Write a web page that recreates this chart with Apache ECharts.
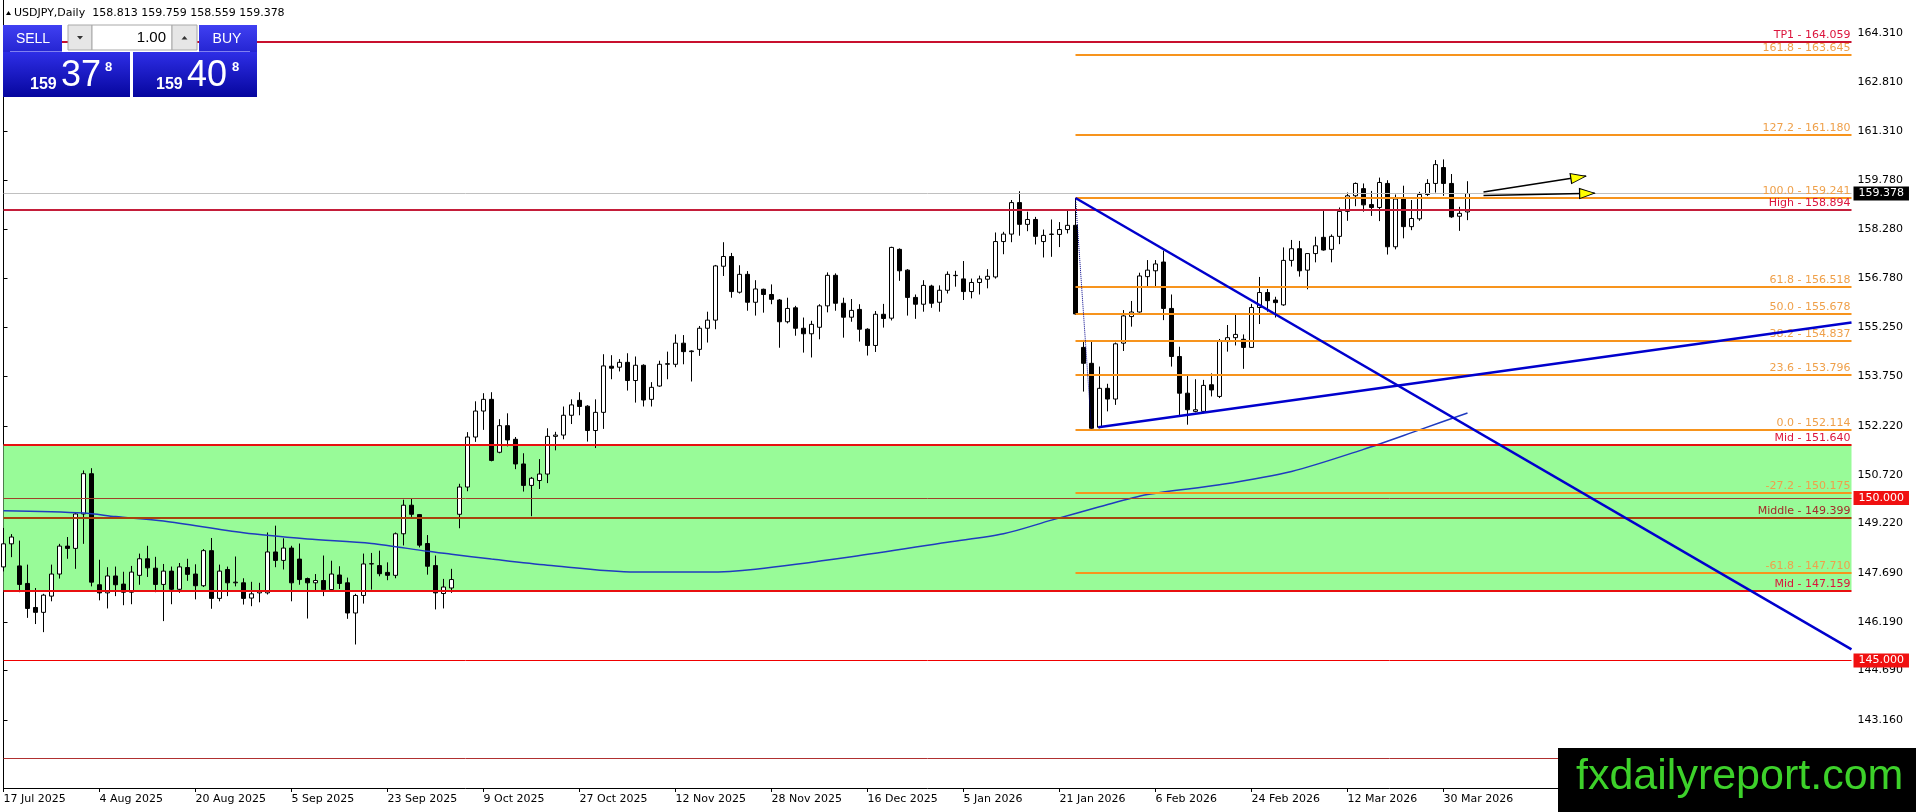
<!DOCTYPE html>
<html>
<head>
<meta charset="utf-8">
<title>USDJPY Daily</title>
<script src="https://cdn.jsdelivr.net/npm/echarts@6/dist/echarts.min.js"></script>
<style>
html, body { margin: 0; padding: 0; background: #fff; }
#chart { width: 1916px; height: 812px; }
</style>
</head>
<body>
<div id="chart"></div>
<script>
// daily bars, 17 Jul 2025 .. 2 Apr 2026 (bar index 0..183)
var opens = [
  147.88,148.59,147.91,147.37,146.63,146.48,146.98,147.66,148.52,148.45,
  149.51,150.75,147.33,147.08,147.60,147.35,147.10,147.62,148.13,147.84,
  147.34,147.75,147.19,147.86,147.66,147.30,148.38,146.91,147.80,147.39,
  147.39,146.92,147.08,147.08,148.34,148.08,148.46,148.12,147.52,147.39,
  147.46,147.18,147.63,147.39,146.46,147.00,147.97,147.92,147.71,147.62,
  148.90,149.78,149.49,148.60,147.92,147.06,147.23,149.50,150.34,151.88,
  152.68,153.04,151.41,152.23,151.81,151.05,150.39,150.54,150.74,151.90,
  151.94,152.55,153.01,152.83,152.08,152.64,154.06,154.03,154.18,153.62,
  154.09,153.04,153.45,154.12,154.12,154.77,154.51,154.58,155.23,155.48,
  157.14,157.44,156.34,156.89,156.03,156.43,156.27,156.10,155.43,155.86,
  155.23,155.06,155.26,155.92,156.86,156.00,155.57,155.81,155.20,154.70,
  155.66,155.54,157.66,157.02,156.18,155.97,156.53,156.03,156.40,156.85,
  156.75,156.36,156.64,156.74,156.81,157.90,158.13,159.10,158.43,158.58,
  157.90,158.12,158.12,158.27,158.40,154.64,154.15,152.18,153.38,153.05,
  154.77,155.59,155.73,156.82,157.00,157.27,155.84,154.36,153.23,152.67,
  152.67,153.49,153.13,154.82,154.94,154.89,154.64,155.87,156.33,156.10,
  155.95,157.32,157.68,157.02,157.53,158.03,157.66,158.06,158.83,159.31,
  159.53,159.04,158.95,159.69,157.74,159.23,158.36,158.60,159.35,159.69,
  160.18,159.69,158.68,158.813
];
var highs = [
  149.08,148.89,148.69,147.95,147.23,147.05,147.95,148.59,148.80,149.55,
  150.85,150.92,148.10,147.87,147.89,147.73,147.91,148.29,148.53,148.19,
  147.97,147.89,148.00,148.13,147.96,148.43,148.77,147.95,147.89,148.20,
  147.53,147.42,147.39,148.94,149.15,148.76,148.53,148.60,147.55,147.66,
  148.23,148.07,147.90,147.55,147.05,148.29,148.31,148.38,148.02,148.94,
  149.95,149.99,149.51,148.86,148.23,147.51,147.82,150.44,152.03,152.98,
  153.23,153.26,152.43,152.61,151.88,151.38,150.65,151.20,152.15,152.04,
  152.82,153.04,153.26,152.86,153.04,154.43,154.40,154.28,154.46,154.36,
  154.12,153.57,154.23,154.51,155.04,155.02,154.55,155.30,155.74,157.18,
  157.88,157.55,157.17,156.99,156.71,156.45,156.58,156.13,156.17,155.92,
  155.56,155.46,155.97,156.95,156.92,156.17,156.13,155.97,155.23,155.76,
  155.98,157.74,157.69,157.05,156.27,156.71,156.57,156.55,156.98,157.00,
  157.30,156.76,156.85,157.05,158.18,158.20,159.18,159.45,158.82,158.66,
  158.27,158.58,158.50,158.86,159.24,154.87,154.85,154.05,153.52,154.79,
  155.79,156.07,156.94,157.33,157.33,157.62,156.27,154.66,153.76,153.66,
  153.64,153.84,154.90,155.33,155.64,155.04,155.98,156.81,156.44,156.20,
  157.72,157.95,157.92,157.54,158.05,158.85,158.12,158.95,159.41,159.72,
  159.69,159.46,159.87,159.79,159.35,159.62,159.18,159.43,159.82,160.41,
  160.43,159.98,158.97,159.759
];
var lows = [
  147.74,148.18,147.10,146.31,146.12,145.87,146.82,147.52,148.13,147.82,
  148.59,147.28,146.85,146.60,146.98,146.70,146.73,147.33,147.57,147.10,
  146.21,146.73,147.08,147.45,146.88,147.26,146.59,146.82,146.98,147.28,
  146.72,146.67,146.79,147.03,147.87,147.80,146.82,147.33,146.29,147.11,
  146.98,147.15,147.20,146.28,145.49,146.75,147.18,147.59,147.47,147.53,
  148.54,149.42,148.48,147.64,146.57,146.60,147.08,149.07,150.21,151.73,
  152.10,151.13,151.38,151.59,150.89,150.20,149.44,150.28,150.46,151.47,
  151.81,152.28,152.55,151.74,151.54,152.13,153.66,153.90,153.31,152.94,
  152.82,152.82,153.43,153.66,154.03,154.12,153.59,154.38,154.79,155.20,
  156.84,156.17,156.30,155.77,155.62,155.71,155.97,154.63,155.38,155.00,
  154.48,154.33,154.89,155.72,155.77,154.94,155.43,154.82,154.39,154.50,
  155.25,155.47,156.69,155.62,155.52,155.74,155.86,155.74,156.30,156.51,
  156.10,156.15,156.27,156.46,156.76,157.51,157.88,158.08,158.22,157.81,
  157.41,157.43,157.73,158.15,155.64,153.28,152.11,152.15,152.67,152.87,
  154.53,155.28,155.71,156.53,156.53,155.48,154.05,152.56,152.26,152.64,
  152.61,153.13,153.08,154.51,154.70,153.98,154.63,155.36,155.74,155.56,
  155.92,157.13,156.82,156.43,157.26,157.62,157.26,157.82,158.54,158.99,
  158.82,158.69,158.53,157.50,157.66,158.00,158.25,158.54,159.30,159.41,
  159.31,158.63,158.23,158.559
];
var closes = [
  148.59,148.80,147.34,146.60,146.48,147.01,147.66,148.52,148.45,149.51,
  150.75,147.41,147.08,147.60,147.33,147.10,147.72,148.13,147.85,147.34,
  147.75,147.19,147.88,147.65,147.30,148.38,146.91,147.75,147.39,147.41,
  146.91,147.05,147.15,148.34,148.08,148.46,147.39,147.49,147.39,147.46,
  147.18,147.66,147.37,146.46,147.00,147.97,147.98,147.67,147.62,148.90,
  149.78,149.50,148.55,147.90,147.08,147.26,147.49,150.34,151.88,152.68,
  153.04,151.16,152.23,151.79,151.05,150.39,150.61,150.74,151.90,151.94,
  152.55,152.87,152.82,152.08,152.64,154.07,154.00,154.18,153.62,154.09,
  153.02,153.41,154.12,154.14,154.77,154.51,154.53,155.23,155.48,157.15,
  157.44,156.36,156.89,156.03,156.44,156.27,156.12,155.43,155.84,155.23,
  155.06,155.35,155.92,156.86,156.00,155.57,155.78,155.20,154.70,155.66,
  155.53,157.72,157.00,156.18,155.97,156.55,156.00,156.40,156.89,156.86,
  156.36,156.64,156.75,156.83,157.90,158.13,159.10,158.43,158.58,158.06,
  158.09,158.13,158.27,158.40,155.67,154.15,152.15,153.38,153.05,154.75,
  155.61,155.73,156.84,157.02,157.21,155.84,154.36,153.23,152.72,152.72,
  153.47,153.33,154.85,154.94,155.04,154.64,155.87,156.33,156.08,156.02,
  157.32,157.68,157.00,157.53,157.77,157.64,158.06,158.83,159.31,159.69,
  159.03,158.95,159.72,157.74,159.21,158.36,158.61,159.35,159.69,160.27,
  159.69,158.66,158.77,159.378
];

// x labels, one every 12 bars starting at bar 0
var dateLabels = ['17 Jul 2025','4 Aug 2025','20 Aug 2025','5 Sep 2025','23 Sep 2025','9 Oct 2025',
  '27 Oct 2025','12 Nov 2025','28 Nov 2025','16 Dec 2025','5 Jan 2026','21 Jan 2026',
  '6 Feb 2026','24 Feb 2026','12 Mar 2026','30 Mar 2026'];
var priceTicks = [164.310,162.810,161.310,159.780,158.280,156.780,155.250,153.750,
  152.220,150.720,149.220,147.690,146.190,144.690,143.160];

// moving average, read at a few bars
var maBars   = [0,10,14,20,30,38,46,53,56,61,68,79,88,94,106,118,125,131,137,143,152,161,170,177,183];
var maValues = [149.61,149.54,149.43,149.29,148.93,148.74,148.60,148.36,148.27,148.12,147.93,147.72,147.72,
  147.81,148.19,148.64,148.90,149.32,149.73,150.11,150.41,150.82,151.50,152.10,152.62];

// fibonacci from the 23 Jan high (bar 134)
var fibAnchorBar = 134;
var fibNames  = ['161.8','127.2','100.0','61.8','50.0','38.2','23.6','0.0','-27.2','-61.8'];
var fibLevels = [163.645,161.180,159.241,156.518,155.678,154.837,153.796,152.114,150.175,147.710];

var levelNames  = ['TP1','High','Mid','Middle','Mid'];
var levelPrices = [164.059,158.894,151.640,149.399,147.159];
var roundLevels = [150.000,145.000];
var plainLevel  = 142.000;
var bidPrice    = 159.378;

var zoneTop = 151.640, zoneBottom = 147.159;

var trendDown  = [[134,159.241],[231,145.34]];
var trendUp    = [[136.85,152.18],[231,155.41]];
var fibDiag    = [[134,159.241],[136,152.114]];
var arrow1     = [[185.0,159.43],[197.8,159.92]];
var arrow2     = [[185.0,159.315],[198.9,159.39]];
var arrowHeads = [[196.85,159.875],[197.95,159.385]];

var N = 232;
var cats = [];
for (var i = 0; i < N; i++) cats.push(String(i));
var lastX = N - 1;

var candleData = opens.map(function (o, i) { return [o, closes[i], lows[i], highs[i]]; });
var maData = maBars.map(function (b, i) { return [b, maValues[i]]; });

var FONT = 'DejaVu Sans';

function hLine(x0, v, color, width, label) {
  var a = { coord: [x0, v], lineStyle: { color: color, width: width, type: 'solid' } };
  a.label = label || { show: false };
  return [a, { coord: [lastX, v] }];
}
function topLabel(text, color) {
  return { show: true, position: 'insideEndTop', distance: 1, formatter: text,
           color: color, fontFamily: FONT, fontSize: 11 };
}
function boxLabel(text, bg) {
  return { show: true, position: 'end', distance: 2, formatter: text, color: '#fff',
           backgroundColor: bg, padding: [2, 5, 1, 5], fontFamily: FONT, fontSize: 11 };
}

var lineItems = [];
var levelColors = ['#C8102E', '#C41E3A', '#E81010', '#A8420C', '#E81010'];
var levelText   = ['#DC143C', '#DC143C', '#DC143C', '#A52A2A', '#DC143C'];
levelPrices.forEach(function (v, i) {
  lineItems.push(hLine(0, v, levelColors[i], 2,
    topLabel(levelNames[i] + ' - ' + v.toFixed(3), levelText[i])));
});
fibLevels.forEach(function (v, i) {
  lineItems.push(hLine(fibAnchorBar, v, '#F7941D', 2,
    topLabel(fibNames[i] + ' - ' + v.toFixed(3), '#EFA04A')));
});
lineItems.push(hLine(0, roundLevels[0], '#A0402A', 1, boxLabel(roundLevels[0].toFixed(3), '#F01010')));
lineItems.push(hLine(0, roundLevels[1], '#F00000', 1, boxLabel(roundLevels[1].toFixed(3), '#F01010')));
lineItems.push(hLine(0, plainLevel, '#B03030', 1));
lineItems.push(hLine(0, bidPrice, '#C0C0C0', 1, boxLabel(bidPrice.toFixed(3), '#000')));

function seg(data, color, width, type, z) {
  return { type: 'line', xAxisIndex: 1, yAxisIndex: 0, data: data, showSymbol: false,
           symbol: 'none', clip: false, silent: true, z: z,
           lineStyle: { color: color, width: width, type: type } };
}

var blueGrad = function (a, b) {
  return new echarts.graphic.LinearGradient(0, 0, 0, 1, [{ offset: 0, color: a }, { offset: 1, color: b }]);
};

var chart = echarts.init(document.getElementById('chart'));
chart.setOption({
  animation: false,
  backgroundColor: '#fff',
  grid: { left: 3.5, right: 64.5, top: 0, bottom: 24, containLabel: false },
  xAxis: [{
    type: 'category', data: cats, boundaryGap: false,
    axisLine: { show: true, lineStyle: { color: '#000', width: 1 } },
    axisTick: { show: true, length: 4, lineStyle: { color: '#000' },
      interval: function (idx) { return idx % 12 === 0 && idx / 12 < dateLabels.length; } },
    axisLabel: { show: true, align: 'left', margin: 6, color: '#000', fontFamily: FONT, fontSize: 11,
      interval: function (idx) { return idx % 12 === 0 && idx / 12 < dateLabels.length; },
      formatter: function (v) { return dateLabels[Number(v) / 12] || ''; } },
    splitLine: { show: false }
  }, {
    type: 'value', min: 0, max: lastX, show: false
  }],
  yAxis: [{
    type: 'value', position: 'right', min: 141.07, max: 165.34, scale: true,
    axisLine: { show: true, lineStyle: { color: '#000', width: 1 } },
    axisTick: { show: true, length: 4, lineStyle: { color: '#000' }, customValues: priceTicks },
    axisLabel: { show: true, margin: 6, color: '#000', fontFamily: FONT, fontSize: 11,
      customValues: priceTicks, formatter: function (v) { return Number(v).toFixed(3); } },
    splitLine: { show: false }
  }, {
    type: 'value', position: 'left', min: 141.07, max: 165.34,
    axisLine: { show: true, lineStyle: { color: '#000', width: 1 } },
    axisTick: { show: false }, axisLabel: { show: false }, splitLine: { show: false }
  }],
  series: [
    { // green zone
      type: 'line', xAxisIndex: 1, yAxisIndex: 0, data: [], z: 1, silent: true,
      markArea: { silent: true, itemStyle: { color: '#98FB98' },
        data: [[{ coord: [0, zoneTop] }, { coord: [lastX, zoneBottom] }]] }
    },
    {
      type: 'candlestick', xAxisIndex: 0, yAxisIndex: 0, data: candleData, z: 3,
      barWidth: 5, clip: false, silent: true,
      itemStyle: { color: '#FFFFFF', color0: '#000000', borderColor: '#000000',
                   borderColor0: '#000000', borderWidth: 1 }
    },
    {
      type: 'line', xAxisIndex: 1, yAxisIndex: 0, data: maData, smooth: 0.3, z: 4,
      showSymbol: false, symbol: 'none', silent: true,
      lineStyle: { color: '#1F3BBF', width: 1.5 }
    },
    {
      type: 'line', xAxisIndex: 1, yAxisIndex: 0, data: [], z: 5, clip: false, silent: true,
      markLine: { silent: true, symbol: ['none', 'none'], animation: false,
        label: { show: false }, data: lineItems }
    },
    seg(trendDown, '#0000CD', 2.5, 'solid', 6),
    seg(trendUp, '#0000CD', 2.5, 'solid', 6),
    seg(fibDiag, '#00008B', 1, 'dotted', 6),
    seg(arrow1, '#000', 1.5, 'solid', 7),
    seg(arrow2, '#000', 1.5, 'solid', 7),
    {
      type: 'scatter', xAxisIndex: 1, yAxisIndex: 0, z: 8, silent: true,
      data: [
        { value: arrowHeads[0], symbolRotate: -81.2 },
        { value: arrowHeads[1], symbolRotate: -88.8 }
      ],
      symbol: 'triangle', symbolSize: [10, 15],
      itemStyle: { color: '#FFFF00', borderColor: '#000', borderWidth: 1, opacity: 1 }
    }
  ],
  graphic: [
    { type: 'polygon', shape: { points: [[6, 15], [8.5, 11], [11, 15]] }, style: { fill: '#000' }, z: 100 },
    { type: 'text', x: 14, y: 13, z: 100,
      style: { text: 'USDJPY,Daily  158.813 159.759 158.559 159.378', fill: '#000',
               font: '11px "DejaVu Sans"', verticalAlign: 'middle' } },
    // trade panel
    { type: 'rect', shape: { x: 3, y: 25, width: 59, height: 27 }, style: { fill: blueGrad('#4040F2', '#2525D2') }, z: 100 },
    { type: 'rect', shape: { x: 199, y: 25, width: 58, height: 27 }, style: { fill: blueGrad('#4040F2', '#2525D2') }, z: 100 },
    { type: 'line', shape: { x1: 10, y1: 51.5, x2: 62, y2: 51.5 }, style: { stroke: '#8080F0', lineWidth: 1 }, z: 101 },
    { type: 'line', shape: { x1: 199, y1: 51.5, x2: 250, y2: 51.5 }, style: { stroke: '#8080F0', lineWidth: 1 }, z: 101 },
    { type: 'rect', shape: { x: 68, y: 25, width: 24, height: 25 }, style: { fill: '#E6E6E6', stroke: '#A8A8A8' }, z: 100 },
    { type: 'rect', shape: { x: 92, y: 25, width: 80, height: 25 }, style: { fill: '#FFFFFF', stroke: '#A8A8A8' }, z: 100 },
    { type: 'rect', shape: { x: 172, y: 25, width: 25, height: 25 }, style: { fill: '#E6E6E6', stroke: '#A8A8A8' }, z: 100 },
    { type: 'polygon', shape: { points: [[77, 36], [83, 36], [80, 39.5]] }, style: { fill: '#333' }, z: 101 },
    { type: 'polygon', shape: { points: [[181.5, 39.5], [187.5, 39.5], [184.5, 36]] }, style: { fill: '#333' }, z: 101 },
    { type: 'text', x: 33, y: 39, z: 101, style: { text: 'SELL', fill: '#fff', font: '14px "Liberation Sans"', align: 'center', verticalAlign: 'middle' } },
    { type: 'text', x: 227, y: 39, z: 101, style: { text: 'BUY', fill: '#fff', font: '14px "Liberation Sans"', align: 'center', verticalAlign: 'middle' } },
    { type: 'text', x: 166, y: 38, z: 101, style: { text: '1.00', fill: '#000', font: '15px "Liberation Sans"', align: 'right', verticalAlign: 'middle' } },
    { type: 'rect', shape: { x: 3, y: 52, width: 127, height: 45 }, style: { fill: blueGrad('#2E2EE6', '#06069E') }, z: 100 },
    { type: 'rect', shape: { x: 133, y: 52, width: 124, height: 45 }, style: { fill: blueGrad('#2E2EE6', '#06069E') }, z: 100 },
    { type: 'text', x: 30, y: 85, z: 101, style: { text: '159', fill: '#fff', font: 'bold 16px "Liberation Sans"', verticalAlign: 'middle' } },
    { type: 'text', x: 61, y: 76, z: 101, style: { text: '37', fill: '#fff', font: '36px "Liberation Sans"', verticalAlign: 'middle' } },
    { type: 'text', x: 105, y: 67, z: 101, style: { text: '8', fill: '#fff', font: 'bold 13px "Liberation Sans"', verticalAlign: 'middle' } },
    { type: 'text', x: 156, y: 85, z: 101, style: { text: '159', fill: '#fff', font: 'bold 16px "Liberation Sans"', verticalAlign: 'middle' } },
    { type: 'text', x: 187, y: 76, z: 101, style: { text: '40', fill: '#fff', font: '36px "Liberation Sans"', verticalAlign: 'middle' } },
    { type: 'text', x: 232, y: 67, z: 101, style: { text: '8', fill: '#fff', font: 'bold 13px "Liberation Sans"', verticalAlign: 'middle' } },
    // watermark
    { type: 'rect', shape: { x: 1558, y: 748, width: 358, height: 64 }, style: { fill: '#000' }, z: 100 },
    { type: 'text', x: 1576, y: 777, z: 101,
      style: { text: 'fxdailyreport.com', fill: '#3DD12A', font: '43px "Liberation Sans"', verticalAlign: 'middle' } }
  ]
});
</script>
</body>
</html>
